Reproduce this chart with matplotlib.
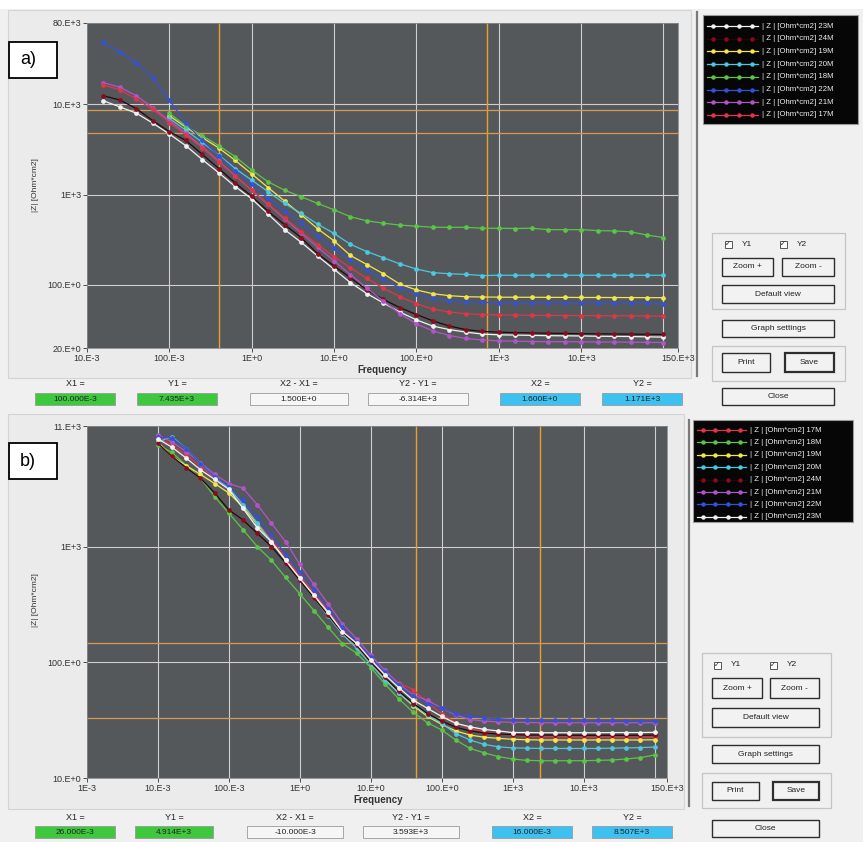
import matplotlib
matplotlib.use('Agg')
import matplotlib.pyplot as plt
from matplotlib.patches import Rectangle
from matplotlib.ticker import NullLocator
import numpy as np

plt.rcParams['font.family'] = ['Liberation Sans', 'DejaVu Sans']
nan = float('nan')

# ---------------- data: panel a ----------------
freq_a = [0.0158, 0.0251, 0.0398, 0.0631, 0.1, 0.158, 0.251, 0.398, 0.631, 1,
          1.58, 2.51, 3.98, 6.31, 10, 15.8, 25.1, 39.8, 63.1, 100,
          158, 251, 398, 631, 1000, 1580, 2510, 3980, 6310, 10000,
          15800, 25100, 39800, 63100, 100000]
z23_a = [11000, 9400, 8000, 6200, 4700, 3500, 2450, 1750, 1230, 900,
         610, 410, 297, 209, 149, 106, 80, 63, 50, 41,
         35, 32, 30, 28.5, 28, 27.8, 27.6, 27.4, 27.3, 27.2,
         27.0, 26.9, 26.8, 26.6, 26.4]
z24_a = [12500, 11200, 9000, 6600, 5000, 4000, 2800, 1950, 1350, 960,
         655, 465, 335, 222, 162, 120, 88, 69, 56, 47,
         40, 35, 32, 30.5, 30, 29.6, 29.4, 29.2, 29, 28.8,
         28.7, 28.6, 28.5, 28.4, 28.3]
z19_a = [nan, nan, nan, nan, 7500, 5600, 4300, 3300, 2400, 1700,
         1200, 850, 600, 420, 308, 212, 168, 133, 102, 88,
         80, 76, 74, 73.5, 73.2, 73, 73, 72.8, 72.8, 72.6,
         72.6, 72.5, 72.4, 72.3, 72.2]
z20_a = [nan, nan, nan, nan, 7000, 5200, 3800, 2750, 1950, 1450,
         1080, 800, 620, 472, 372, 282, 234, 200, 171, 150,
         137, 133, 131, 127, 128, 128, 128, 128, 128, 128,
         128, 128, 128, 128, 128]
z18_a = [nan, nan, nan, nan, 8000, 5800, 4500, 3500, 2640, 1875,
         1390, 1120, 950, 800, 680, 570, 513, 484, 460, 448,
         436, 435, 435, 425, 425, 422, 425, 410, 410, 410,
         400, 397, 388, 357, 335]
z22_a = [49000, 38000, 29000, 19600, 11200, 6200, 4000, 2700, 1850, 1300,
         920, 660, 480, 350, 255, 190, 145, 115, 93, 79,
         71, 67, 65, 64, 63.5, 63, 63, 63, 62.8, 62.7,
         62.6, 62.5, 62.4, 62.3, 62]
z21_a = [17500, 15500, 12500, 9200, 6600, 4800, 3400, 2350, 1620, 1120,
         780, 540, 375, 262, 185, 130, 92, 66, 48, 37,
         31, 27.5, 25.5, 24.5, 24, 23.8, 23.6, 23.5, 23.5, 23.4,
         23.3, 23.3, 23.2, 23.1, 23]
z17_a = [16500, 14500, 11500, 8800, 6300, 4600, 3300, 2300, 1600, 1120,
         790, 550, 390, 280, 205, 155, 118, 92, 74, 62,
         54, 50, 48, 47, 46.5, 46.3, 46, 46, 45.8, 45.7,
         45.6, 45.5, 45.4, 45.3, 45]
names_a = ['23M', '24M', '19M', '20M', '18M', '22M', '21M', '17M']
series_a = [z23_a, z24_a, z19_a, z20_a, z18_a, z22_a, z21_a, z17_a]
cursor_ax = [0.4, 710]
cursor_ay = [8670, 4865]

# ---------------- data: panel b ----------------
freq_b = [0.01, 0.0158, 0.0251, 0.0398, 0.0631, 0.1, 0.158, 0.251, 0.398, 0.631,
          1, 1.58, 2.51, 3.98, 6.31, 10, 15.8, 25.1, 39.8, 63.1,
          100, 158, 251, 398, 631, 1000, 1580, 2510, 3980, 6310,
          10000, 15800, 25100, 39800, 63100, 100000]
z17_b = [8700, 7500, 6200, 4900, 3900, 3200, 2300, 1600, 1150, 800,
         560, 400, 280, 190, 145, 105, 76, 66, 58, 45,
         36, 30, 27, 25, 24, 23.5, 23, 22.8, 22.7, 22.7,
         22.6, 22.6, 22.6, 22.6, 22.6, 22.6]
z18_b = [7500, 6500, 5000, 3900, 2700, 1940, 1400, 1000, 760, 540,
         390, 280, 200, 145, 120, 90, 65, 48, 37, 30,
         26, 21.3, 18, 16.5, 15.3, 14.6, 14.2, 14.1, 14.1, 14.1,
         14.1, 14.2, 14.3, 14.6, 15.0, 15.8]
z19_b = [8000, 6000, 5000, 4200, 3500, 2900, 2200, 1550, 1100, 760,
         530, 370, 260, 180, 138, 100, 72, 54, 42, 34,
         29, 25.5, 23.5, 22.5, 22, 21.6, 21.4, 21.3, 21.3, 21.3,
         21.3, 21.3, 21.3, 21.3, 21.3, 21.4]
z20_b = [8000, 8900, 7000, 5200, 4000, 3200, 2300, 1600, 1100, 750,
         520, 360, 250, 175, 132, 96, 70, 54, 43, 35,
         29.7, 24.2, 21.3, 19.5, 18.6, 18.2, 18.1, 18, 18, 18,
         18, 18, 18.1, 18.2, 18.3, 18.5]
z24_b = [7800, 6000, 4800, 3900, 2900, 2070, 1700, 1300, 1000, 720,
         510, 360, 255, 180, 140, 100, 74, 56, 44, 36,
         31, 27.5, 25.5, 24.5, 24, 23.7, 23.5, 23.5, 23.5, 23.4,
         23.4, 23.4, 23.4, 23.4, 23.4, 23.5]
z21_b = [9200, 8000, 6600, 5300, 4200, 3500, 3200, 2300, 1590, 1100,
         700, 470, 320, 215, 160, 115, 85, 65, 52, 47,
         40, 35, 32, 31, 30.5, 30.3, 30.2, 30, 30, 30,
         30, 30, 30, 30, 30, 30]
z22_b = [8800, 8700, 7000, 5200, 4000, 3300, 2500, 1800, 1250, 850,
         600, 420, 290, 200, 150, 110, 82, 63, 51, 44,
         40, 36, 34, 33, 32.5, 32, 31.8, 31.6, 31.5, 31.5,
         31.5, 31.4, 31.4, 31.3, 31.3, 31.2]
z23_b = [8500, 7200, 5800, 4600, 3800, 3120, 2140, 1450, 1100, 760,
         532, 380, 270, 184, 146, 105, 78, 60, 47, 40,
         34, 29.7, 27.7, 26.3, 25.5, 24.7, 24.7, 24.6, 24.6, 24.6,
         24.6, 24.6, 24.7, 24.7, 24.7, 24.8]
names_b = ['17M', '18M', '19M', '20M', '24M', '21M', '22M', '23M']
series_b = [z17_b, z18_b, z19_b, z20_b, z24_b, z21_b, z22_b, z23_b]
cursor_bx = [43.7, 2450]
cursor_by = [146, 33.2]

colors = {'23M': '#f2f2f2', '24M': '#2a0508', '19M': '#f2e64a', '20M': '#4cc8e0',
          '18M': '#5cc448', '22M': '#3452d8', '21M': '#b055c8', '17M': '#e2344a'}
mcolors = dict(colors)
mcolors['24M'] = '#8a0c1e'

cursor_a_text = [('X1 =', '100.000E-3'), ('Y1 =', '7.435E+3'), ('X2 - X1 =', '1.500E+0'),
                 ('Y2 - Y1 =', '-6.314E+3'), ('X2 =', '1.600E+0'), ('Y2 =', '1.171E+3')]
cursor_b_text = [('X1 =', '26.000E-3'), ('Y1 =', '4.914E+3'), ('X2 - X1 =', '-10.000E-3'),
                 ('Y2 - Y1 =', '3.593E+3'), ('X2 =', '16.000E-3'), ('Y2 =', '8.507E+3')]

# ---------------- figure ----------------
W, H = 863, 842
fig = plt.figure(figsize=(W / 100, H / 100), dpi=100, facecolor='#f0f0f0')
bg = fig.add_axes([0, 0, 1, 1], zorder=0)
bg.set_xlim(0, W)
bg.set_ylim(H, 0)
bg.axis('off')


def rect(x0, y0, x1, y1, fc='none', ec='none', lw=0.8, z=1):
    bg.add_patch(Rectangle((x0, y0), x1 - x0, y1 - y0, facecolor=fc,
                           edgecolor=ec, linewidth=lw, zorder=z))


def axpos(x0, y0, x1, y1):
    return [x0 / W, 1 - y1 / H, (x1 - x0) / W, (y1 - y0) / H]


# background frames
rect(0, 0, W, 9, fc='#ffffff', z=0.1)
rect(8, 10, 691, 378, fc='#ebebeb', ec='#d4d4d4', z=0.2)
rect(8, 414, 684, 809, fc='#ebebeb', ec='#d4d4d4', z=0.2)
bg.plot([697, 697], [12, 376], color='#7a7a7a', lw=1.6, zorder=0.5)
bg.plot([689, 689], [420, 806], color='#7a7a7a', lw=1.6, zorder=0.5)


def setup(ax, xlim, ylim, xt, xl, yt, yl, xg, yg):
    ax.set_facecolor('#55585b')
    ax.set_xscale('log')
    ax.set_yscale('log')
    ax.set_xlim(*xlim)
    ax.set_ylim(*ylim)
    ax.set_xticks(xt)
    ax.set_xticklabels(xl)
    ax.set_yticks(yt)
    ax.set_yticklabels(yl)
    ax.xaxis.set_minor_locator(NullLocator())
    ax.yaxis.set_minor_locator(NullLocator())
    for g in xg:
        ax.axvline(g, color='#cfcfcf', lw=0.8, zorder=1)
    for g in yg:
        ax.axhline(g, color='#cfcfcf', lw=0.8, zorder=1)
    ax.tick_params(labelsize=6.5, colors='#333333', length=3, width=0.6, pad=1)
    for s in ax.spines.values():
        s.set_color('#8a8a8a')
        s.set_linewidth(0.6)


def draw_series(ax, freq, series, names):
    for nm, vals in zip(names, series):
        ax.plot(freq, vals, '-', color=colors[nm], lw=0.9, zorder=3,
                marker='o', ms=2.4, mfc=mcolors[nm], mec=mcolors[nm])


# panel a
axa = fig.add_axes(axpos(87, 23, 678, 348), zorder=2)
setup(axa, (0.01, 1.5e5), (20, 8e4),
      [0.01, 0.1, 1, 10, 100, 1000, 1e4, 1.5e5],
      ['10.E-3', '100.E-3', '1E+0', '10.E+0', '100.E+0', '1E+3', '10.E+3', '150.E+3'],
      [20, 100, 1000, 10000, 80000],
      ['20.E+0', '100.E+0', '1E+3', '10.E+3', '80.E+3'],
      [0.1, 1, 10, 100, 1000, 1e4, 1e5], [100, 1000, 10000])
for v in cursor_ax:
    axa.axvline(v, color='#e8a030', lw=1.0, zorder=2)
for v in cursor_ay:
    axa.axhline(v, color='#d89a50', lw=0.9, zorder=2)
draw_series(axa, freq_a, series_a, names_a)

# panel b
axb = fig.add_axes(axpos(87, 426, 667, 778), zorder=2)
setup(axb, (1e-3, 1.5e5), (10, 1.1e4),
      [1e-3, 1e-2, 0.1, 1, 10, 100, 1000, 1e4, 1.5e5],
      ['1E-3', '10.E-3', '100.E-3', '1E+0', '10.E+0', '100.E+0', '1E+3', '10.E+3', '150.E+3'],
      [10, 100, 1000, 11000],
      ['10.E+0', '100.E+0', '1E+3', '11.E+3'],
      [1e-2, 0.1, 1, 10, 100, 1000, 1e4, 1e5], [100, 1000])
for v in cursor_bx:
    axb.axvline(v, color='#e8a030', lw=1.0, zorder=2)
for v in cursor_by:
    axb.axhline(v, color='#d89a50', lw=0.9, zorder=2)
draw_series(axb, freq_b, series_b, names_b)

# axis titles
bg.text(35, 185, '|Z| [Ohm*cm2]', rotation=90, fontsize=6, color='#333333',
        ha='center', va='center')
bg.text(35, 600, '|Z| [Ohm*cm2]', rotation=90, fontsize=6, color='#333333',
        ha='center', va='center')
bg.text(357, 370, 'Frequency', fontsize=7, color='#333333', ha='left', va='center',
        fontweight='bold')
bg.text(353, 800, 'Frequency', fontsize=7, color='#333333', ha='left', va='center',
        fontweight='bold')

# panel labels
rect(9, 42, 57, 78, fc='white', ec='black', lw=1.3, z=3)
bg.text(20, 60, 'a)', fontsize=13, ha='left', va='center', zorder=4)
rect(9, 443, 57, 479, fc='white', ec='black', lw=1.3, z=3)
bg.text(20, 461, 'b)', fontsize=13, ha='left', va='center', zorder=4)

# cursor value rows
green, cyan, light = '#3ec83e', '#3cc2f0', '#f6f6f6'
row_a = [(35, 115, green), (137, 217, green), (250, 348, light),
         (368, 468, light), (500, 580, cyan), (602, 682, cyan)]
row_b = [(35, 115, green), (135, 213, green), (247, 343, light),
         (363, 459, light), (492, 572, cyan), (592, 672, cyan)]
for (lab, val), (x0, x1, fc) in zip(cursor_a_text, row_a):
    rect(x0, 393, x1, 405, fc=fc, ec='#9a9a9a', lw=0.6, z=2)
    bg.text((x0 + x1) / 2, 384, lab, fontsize=6.5, ha='center', va='center', color='#222')
    bg.text((x0 + x1) / 2, 399.5, val, fontsize=6, ha='center', va='center', color='#222')
for (lab, val), (x0, x1, fc) in zip(cursor_b_text, row_b):
    rect(x0, 826, x1, 838, fc=fc, ec='#9a9a9a', lw=0.6, z=2)
    bg.text((x0 + x1) / 2, 817, lab, fontsize=6.5, ha='center', va='center', color='#222')
    bg.text((x0 + x1) / 2, 832.5, val, fontsize=6, ha='center', va='center', color='#222')


# legends
def legend(names, x0, y0, x1, y1, ly0, dy, sx0, sx1, tx):
    rect(x0, y0, x1, y1, fc='#060606', ec='#9a9a9a', lw=0.8, z=2)
    for i, nm in enumerate(names):
        y = ly0 + i * dy
        bg.plot([sx0, sx1], [y, y], color=colors[nm], lw=0.9, zorder=3)
        bg.plot(np.linspace(sx0 + 6, sx1 - 6, 4), [y] * 4, 'o', ms=2.2,
                color=mcolors[nm], zorder=4)
        bg.text(tx, y, '| Z | [Ohm*cm2] ' + nm, fontsize=5.6, color='#f0f0f0',
                ha='left', va='center', zorder=4)


legend(names_a, 703, 15, 858, 124, 26, 12.7, 707, 758, 762)
legend(names_b, 693, 420, 853, 522, 430, 12.4, 697, 746, 750)


# control panels
def button(x0, y0, x1, y1, label, thick=False):
    rect(x0, y0, x1, y1, fc='#f2f2f2', ec='#2e2e2e', lw=1.6 if thick else 1.0, z=2)
    bg.text((x0 + x1) / 2, (y0 + y1) / 2, label, fontsize=6, ha='center',
            va='center', color='#222', zorder=3)


def checkbox(x, y, label):
    rect(x - 3.5, y - 3.5, x + 3.5, y + 3.5, fc='white', ec='#555555', lw=0.7, z=2)
    bg.text(x, y, '\u2713', fontsize=5, ha='center', va='center', color='#222',
            family='DejaVu Sans', zorder=3)
    bg.text(x + 14, y, label, fontsize=6, ha='left', va='center', color='#222')


def controls(g1, cy, c1, c2, bx0, bx1, bmid0, bmid1, zy, dvy, gsy, g2, py, cly):
    rect(g1[0], g1[1], g1[2], g1[3], ec='#c4c4c4', lw=0.9, z=1.5)
    checkbox(c1, cy, 'Y1')
    checkbox(c2, cy, 'Y2')
    button(bx0, zy[0], bmid0, zy[1], 'Zoom +')
    button(bmid1, zy[0], bx1, zy[1], 'Zoom -')
    button(bx0, dvy[0], bx1, dvy[1], 'Default view')
    button(bx0, gsy[0], bx1, gsy[1], 'Graph settings')
    rect(g2[0], g2[1], g2[2], g2[3], ec='#c4c4c4', lw=0.9, z=1.5)
    button(bx0, py[0], bmid0 - 3, py[1], 'Print')
    button(bmid1 + 3, py[0], bx1, py[1], 'Save', thick=True)
    button(bx0, cly[0], bx1, cly[1], 'Close')


controls((712, 233, 845, 309), 244, 728, 783, 722, 834, 773, 782,
         (258, 276), (285, 303), (320, 337), (712, 346, 845, 381), (353, 372), (388, 405))
controls((702, 653, 831, 737), 665, 717, 773, 712, 819, 762, 770,
         (678, 698), (708, 727), (745, 763), (702, 773, 831, 808), (782, 800), (820, 837))

fig.savefig('out.png', dpi=100, facecolor=fig.get_facecolor())
